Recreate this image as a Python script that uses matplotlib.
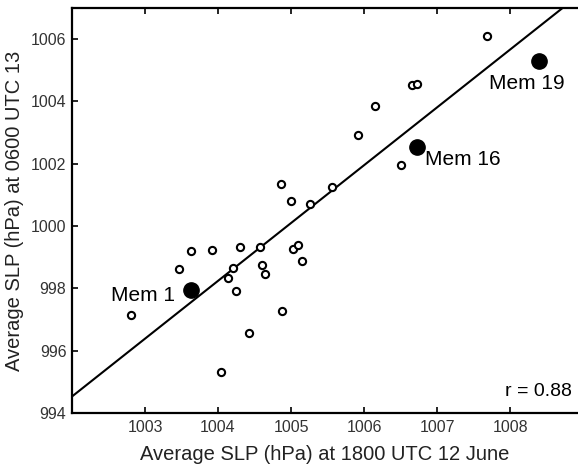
import numpy as np
import matplotlib
matplotlib.use("Agg")
import matplotlib.pyplot as plt

plt.rcParams['font.family'] = ['Liberation Sans', 'DejaVu Sans']

# ensemble members (open circles)
slp_18z = [1007.68, 1006.65, 1006.72, 1006.15, 1005.92, 1006.50,
           1004.86, 1005.00, 1005.26, 1005.56, 1003.63, 1003.92,
           1004.30, 1004.58, 1005.03, 1005.10, 1005.15, 1004.60,
           1004.65, 1003.46, 1004.21, 1004.13, 1004.25, 1002.81,
           1004.87, 1004.43, 1004.04]
slp_06z = [1006.11, 1004.52, 1004.56, 1003.84, 1002.93, 1001.97,
           1001.35, 1000.81, 1000.70, 1001.26, 999.19, 999.22,
           999.33, 999.32, 999.28, 999.40, 998.87, 998.76,
           998.47, 998.61, 998.64, 998.33, 997.91, 997.14,
           997.28, 996.58, 995.32]

# highlighted members
mem_names = ["Mem 1", "Mem 16", "Mem 19"]
mem_18z = [1003.63, 1006.72, 1008.39]
mem_06z = [997.96, 1002.55, 1005.29]

# regression line
slope = 1.856
intercept_at_1002 = 994.53
r_value = 0.88

fig = plt.figure(figsize=(5.78, 4.72), dpi=100)
ax = fig.add_axes([72 / 578, 1 - 413 / 472, 1 - 72 / 578, (413 - 8) / 472])

ax.plot(slp_18z, slp_06z, 'o', mfc='white', mec='black', ms=5.2, mew=1.5, zorder=3)
ax.plot(mem_18z, mem_06z, 'o', color='black', ms=11, zorder=4)

xl = np.array([1002, 1009])
ax.plot(xl, intercept_at_1002 + slope * (xl - 1002), color='black', lw=1.5, zorder=2)

# label offsets (data units) from each highlighted member
offsets = {"Mem 1": (-1.09, -0.19), "Mem 16": (0.11, -0.41),
           "Mem 19": (-0.68, -0.71)}
for name, x, y in zip(mem_names, mem_18z, mem_06z):
    dx, dy = offsets[name]
    ax.text(x + dx, y + dy, name, fontsize=15, ha='left', va='center', zorder=5)

ax.text(0.988, 0.053, f"r = {r_value:.2f}", transform=ax.transAxes,
        fontsize=14, ha='right', va='center')

ax.set_xlim(1002, 1008.93)
ax.set_ylim(994, 1007)
ax.set_xticks([1003, 1004, 1005, 1006, 1007, 1008])
ax.set_yticks([994, 996, 998, 1000, 1002, 1004, 1006])
ax.tick_params(direction='in', length=4, width=1.2, labelsize=11.5,
               labelcolor='#333333', top=True, pad=5)
ax.tick_params(axis='y', pad=4)
for s in ['left', 'bottom', 'top']:
    ax.spines[s].set_linewidth(1.6)
ax.spines['right'].set_visible(False)

ax.set_xlabel("Average SLP (hPa) at 1800 UTC 12 June", fontsize=14.5, labelpad=7, color='#222222')
ax.set_ylabel("Average SLP (hPa) at 0600 UTC 13", fontsize=14.5, labelpad=5, color='#222222')

fig.savefig("out.png", dpi=100)
